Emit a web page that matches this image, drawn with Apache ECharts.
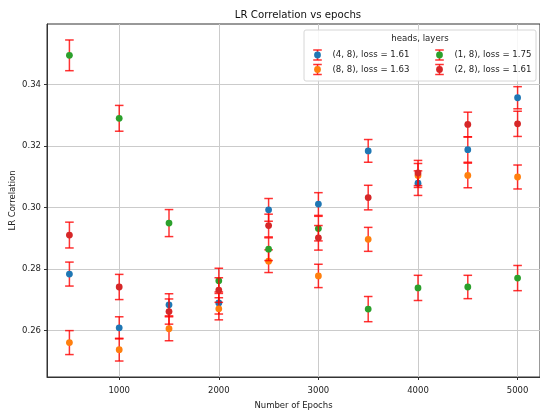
<!DOCTYPE html>
<html>
<head>
<meta charset="utf-8">
<style>
  html, body { margin: 0; padding: 0; background: #ffffff; }
  #chart { width: 540px; height: 410px; }
</style>
<script src="https://cdn.jsdelivr.net/npm/echarts@6/dist/echarts.min.js"></script>
</head>
<body>
<div id="chart"></div>
<script>
// Epoch checkpoints (x positions)
const epochs = [500, 1000, 1500, 2000, 2500, 3000, 3500, 4000, 4500, 5000];

// Legend labels for each configuration
const seriesNames = [
  '(4, 8), loss = 1.61',
  '(8, 8), loss = 1.63',
  '(1, 8), loss = 1.75',
  '(2, 8), loss = 1.61'
];
const seriesColors = ['#1f77b4', '#ff7f0e', '#2ca02c', '#d62728'];

// Mean LR correlation per configuration
const corrH4 = [0.2783, 0.2608, 0.2683, 0.2689, 0.2992, 0.3011, 0.3184, 0.3079, 0.3188, 0.3357];
const corrH8 = [0.2560, 0.2537, 0.2605, 0.2670, 0.2825, 0.2777, 0.2896, 0.3104, 0.3104, 0.3099];
const corrH1 = [0.3495, 0.3290, 0.2949, 0.2761, 0.2864, 0.2931, 0.2669, 0.2738, 0.2741, 0.2770];
const corrH2 = [0.2910, 0.2741, 0.2661, 0.2731, 0.2941, 0.2901, 0.3032, 0.3112, 0.3270, 0.3272];

// Half-widths of the error bars
const errH4 = [0.0039, 0.0036, 0.0036, 0.0036, 0.0037, 0.0037, 0.0037, 0.0040, 0.0041, 0.0036];
const errH8 = [0.0039, 0.0037, 0.0039, 0.0036, 0.0037, 0.0038, 0.0039, 0.0039, 0.0040, 0.0039];
const errH1 = [0.0050, 0.0042, 0.0044, 0.0041, 0.0037, 0.0040, 0.0041, 0.0041, 0.0038, 0.0041];
const errH2 = [0.0042, 0.0041, 0.0041, 0.0040, 0.0037, 0.0040, 0.0040, 0.0041, 0.0040, 0.0041];

// Tick labels
const xTicks = [1000, 2000, 3000, 4000, 5000];
const yTicks = [0.26, 0.28, 0.30, 0.32, 0.34];

const legendTitle = 'heads, layers';
const chartTitle = 'LR Correlation vs epochs';
const xName = 'Number of Epochs';
const yName = 'LR Correlation';

const means = [corrH4, corrH8, corrH1, corrH2];
const errs = [errH4, errH8, errH1, errH2];

const FONT = 'DejaVu Sans';
const ERR_COLOR = 'rgba(255,0,0,0.8)';
const CAP_HALF = 4.3;
const DOT_R = 3.4;

function renderPoint(color) {
  return function (params, api) {
    const x = api.value(0), y = api.value(1), e = api.value(2);
    const c = api.coord([x, y]);
    const top = api.coord([x, y + e]);
    const bot = api.coord([x, y - e]);
    const lineStyle = { stroke: ERR_COLOR, lineWidth: 1.5 };
    return {
      type: 'group',
      children: [
        { type: 'line', shape: { x1: c[0], y1: top[1], x2: c[0], y2: bot[1] }, style: lineStyle },
        { type: 'line', shape: { x1: c[0] - CAP_HALF, y1: top[1], x2: c[0] + CAP_HALF, y2: top[1] }, style: lineStyle },
        { type: 'line', shape: { x1: c[0] - CAP_HALF, y1: bot[1], x2: c[0] + CAP_HALF, y2: bot[1] }, style: lineStyle },
        { type: 'circle', shape: { cx: c[0], cy: c[1], r: DOT_R }, style: { fill: color } }
      ]
    };
  };
}

const series = seriesNames.map((name, i) => ({
  name: name,
  type: 'custom',
  z: 2 + i,
  renderItem: renderPoint(seriesColors[i]),
  data: epochs.map((ep, k) => [ep, means[i][k], errs[i][k]])
}));

// Legend drawn as graphic elements: box, title and four entries in two columns
const legendEls = [
  { type: 'rect', shape: { x: 304, y: 30, width: 232, height: 51, r: 2 },
    style: { fill: 'rgba(255,255,255,0.85)', stroke: '#d6d6d6', lineWidth: 1 }, z: 20 },
  { type: 'text', x: 420, y: 38.5, z: 21,
    style: { text: legendTitle, font: '8.6px "' + FONT + '"', fill: '#222', align: 'center', verticalAlign: 'middle' } }
];
seriesNames.forEach((name, i) => {
  const cx = [317.5, 439.5][Math.floor(i / 2)];
  const cy = [55, 69.5][i % 2];
  const ls = { stroke: ERR_COLOR, lineWidth: 1.5 };
  legendEls.push(
    { type: 'line', z: 21, shape: { x1: cx, y1: cy - 5, x2: cx, y2: cy + 5 }, style: ls },
    { type: 'line', z: 21, shape: { x1: cx - CAP_HALF, y1: cy - 5, x2: cx + CAP_HALF, y2: cy - 5 }, style: ls },
    { type: 'line', z: 21, shape: { x1: cx - CAP_HALF, y1: cy + 5, x2: cx + CAP_HALF, y2: cy + 5 }, style: ls },
    { type: 'circle', z: 22, shape: { cx: cx, cy: cy, r: DOT_R }, style: { fill: seriesColors[i] } },
    { type: 'text', z: 22, x: cx + 15, y: cy,
      style: { text: name, font: '8.6px "' + FONT + '"', fill: '#222', align: 'left', verticalAlign: 'middle' } }
  );
});

const chart = echarts.init(document.getElementById('chart'), null, { renderer: 'canvas' });
chart.setOption({
  animation: false,
  backgroundColor: '#ffffff',
  textStyle: { fontFamily: FONT },
  title: {
    text: chartTitle,
    left: 293, top: 5, textAlign: 'center',
    textStyle: { fontFamily: FONT, fontSize: 10.2, fontWeight: 'normal', color: '#111' }
  },
  grid: {
    left: 47, right: 0, top: 24, bottom: 33,
    containLabel: false, outerBoundsMode: 'none',
    show: true, borderColor: '#333', borderWidth: 1, backgroundColor: 'transparent'
  },
  xAxis: {
    type: 'value',
    min: 275, max: 5225,
    name: xName, nameLocation: 'middle', nameGap: 24, nameMoveOverlap: false,
    nameTextStyle: { fontFamily: FONT, fontSize: 8.5, color: '#222' },
    axisLine: { show: true, lineStyle: { color: '#333', width: 1 } },
    axisTick: { show: true, length: 3, lineStyle: { color: '#333' }, customValues: xTicks },
    axisLabel: { fontFamily: FONT, fontSize: 8.5, color: '#222', margin: 9, customValues: xTicks,
      formatter: v => String(v) },
    splitLine: { show: true, lineStyle: { color: '#cbcbcb', width: 1 } }
  },
  yAxis: {
    type: 'value',
    min: 0.2448, max: 0.3597,
    name: yName, nameLocation: 'middle', nameGap: 30, nameRotate: 90, nameMoveOverlap: false,
    nameTextStyle: { fontFamily: FONT, fontSize: 8.5, color: '#222' },
    axisLine: { show: true, lineStyle: { color: '#333', width: 1 } },
    axisTick: { show: true, length: 3, lineStyle: { color: '#333' }, customValues: yTicks },
    axisLabel: { fontFamily: FONT, fontSize: 8.5, color: '#222', margin: 6, customValues: yTicks,
      formatter: v => v.toFixed(2) },
    splitLine: { show: true, lineStyle: { color: '#cbcbcb', width: 1 } }
  },
  graphic: { elements: legendEls },
  series: series
});
</script>
</body>
</html>
